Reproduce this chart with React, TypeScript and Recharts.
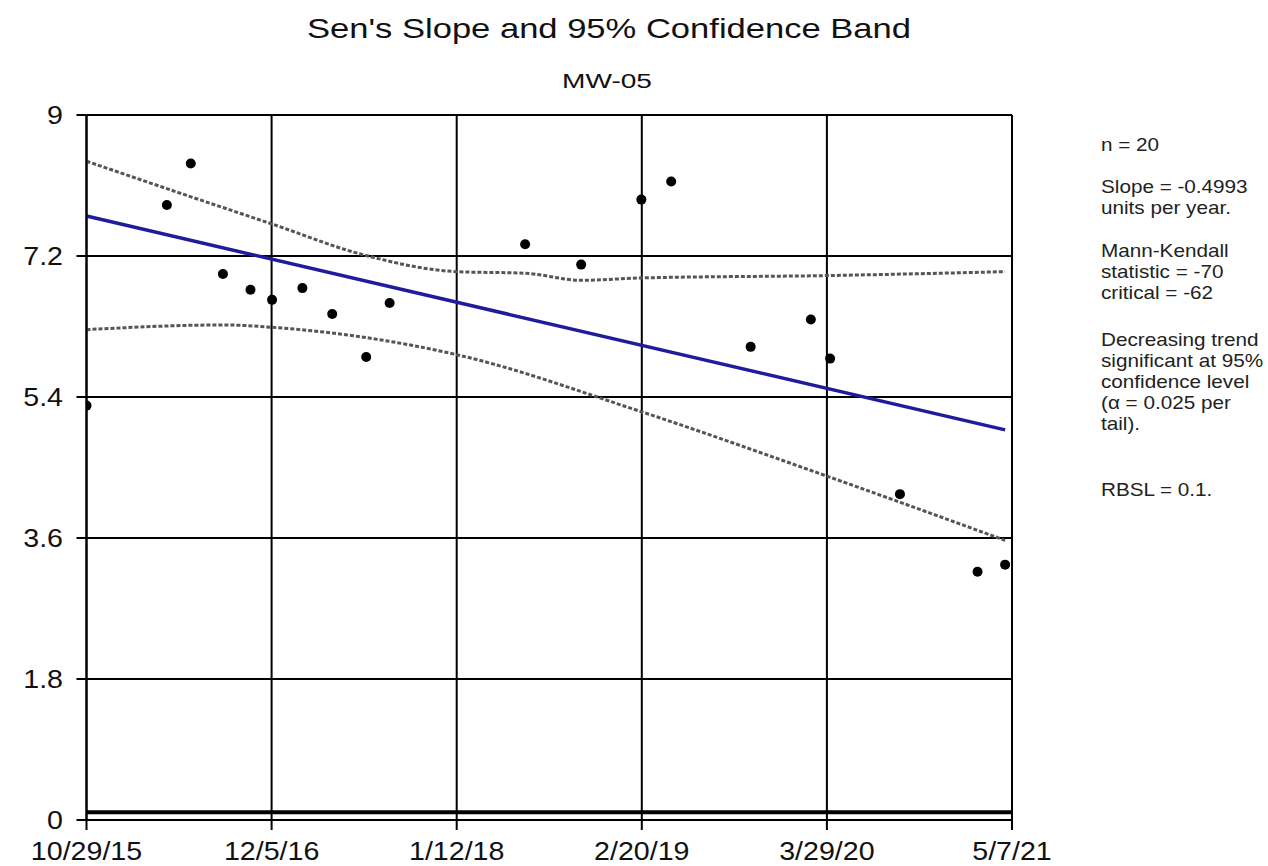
import React from "react";
import {
  ComposedChart,
  XAxis,
  YAxis,
  CartesianGrid,
  Line,
  Scatter,
  ReferenceLine,
} from "recharts";

// Sample dates as days since 10/29/15
const sampleDays = [0, 175, 227, 297, 357, 404, 470, 535, 609, 660, 955, 1077, 1208, 1273, 1446, 1577, 1619, 1771, 1940, 2000];
const sampleValues = [5.29, 7.85, 8.38, 6.97, 6.77, 6.64, 6.79, 6.46, 5.91, 6.6, 7.35, 7.09, 7.92, 8.15, 6.04, 6.39, 5.89, 4.16, 3.17, 3.26];

const senDays = [0, 2000];
const senValues = [7.71, 4.98];

const upperDays = [0, 200, 403, 600, 806, 955, 1077, 1209, 1612, 2000];
const upperValues = [8.41, 8.01, 7.61, 7.22, 7.0, 6.98, 6.89, 6.92, 6.95, 7.0];

const lowerDays = [0, 300, 403, 806, 1209, 1612, 2000];
const lowerValues = [6.26, 6.32, 6.29, 5.94, 5.21, 4.39, 3.57];

const xTicks = [0, 403, 806, 1209, 1612, 2015];
const xTickLabels = ["10/29/15", "12/5/16", "1/12/18", "2/20/19", "3/29/20", "5/7/21"];
const yTicks = [0, 1.8, 3.6, 5.4, 7.2, 9];
const yTickLabels = ["0", "1.8", "3.6", "5.4", "7.2", "9"];

const rbsl = 0.1;

const title = "Sen's Slope and 95% Confidence Band";
const subtitle = "MW-05";
const noteLines: [string, number][] = [
  ["n = 20", 151],
  ["Slope = -0.4993", 193],
  ["units per year.", 214],
  ["Mann-Kendall", 257],
  ["statistic = -70", 278],
  ["critical = -62", 299],
  ["Decreasing trend", 346],
  ["significant at 95%", 367],
  ["confidence level", 388],
  ["(\u03b1 = 0.025 per", 409],
  ["tail).", 430],
  ["RBSL = 0.1.", 496],
];

const zip = (xs: number[], ys: number[]) => xs.map((x, i) => ({ x, y: ys[i] }));
const samples = zip(sampleDays, sampleValues);
const senLine = zip(senDays, senValues);
const upperBand = zip(upperDays, upperValues);
const lowerBand = zip(lowerDays, lowerValues);

const FONT = "'Liberation Sans', Arial, Helvetica, sans-serif";

const YTick = (props: any) => {
  const { y, payload } = props;
  const idx = yTicks.indexOf(payload.value);
  return (
    <text
      x={0}
      y={0}
      transform={`translate(63,${y + 9}) scale(1.1,1)`}
      textAnchor="end"
      fontSize={26}
      fontFamily={FONT}
      fill="#111"
    >
      {idx >= 0 ? yTickLabels[idx] : String(payload.value)}
    </text>
  );
};

const XTick = (props: any) => {
  const { x, payload } = props;
  const idx = xTicks.indexOf(payload.value);
  return (
    <text
      x={0}
      y={0}
      transform={`translate(${x},860) scale(1.1,1)`}
      textAnchor="middle"
      fontSize={26}
      fontFamily={FONT}
      fill="#111"
    >
      {idx >= 0 ? xTickLabels[idx] : String(payload.value)}
    </text>
  );
};

const Dot = (props: any) => {
  const { cx, cy } = props;
  if (cx == null || cy == null) return <g />;
  return <circle cx={cx} cy={cy} r={5} fill="#000" />;
};

export default function App() {
  return (
    <div style={{ position: "absolute", left: 0, top: 0, width: 1268, height: 866, background: "#fff" }}>
      <ComposedChart
        width={1268}
        height={866}
        margin={{ top: 115, right: 256, bottom: 0, left: 0 }}
      >
        <CartesianGrid stroke="#000" strokeWidth={2} />
        <XAxis
          type="number"
          dataKey="x"
          domain={[0, 2015]}
          ticks={xTicks}
          interval={0}
          height={46}
          axisLine={{ stroke: "#000", strokeWidth: 2 }}
          tickLine={{ stroke: "#000", strokeWidth: 2 }}
          tickSize={10}
          tick={<XTick />}
          allowDataOverflow
        />
        <YAxis
          type="number"
          dataKey="y"
          domain={[0, 9]}
          ticks={yTicks}
          interval={0}
          width={86.5}
          axisLine={{ stroke: "#000", strokeWidth: 2 }}
          tickLine={{ stroke: "#000", strokeWidth: 2 }}
          tickSize={10}
          tick={<YTick />}
          allowDataOverflow
        />
        <ReferenceLine y={rbsl} stroke="#000" strokeWidth={4} ifOverflow="visible" />
        <Line
          data={upperBand}
          dataKey="y"
          type="monotone"
          stroke="#555"
          strokeWidth={3}
          strokeDasharray="4 2"
          dot={false}
          activeDot={false}
          isAnimationActive={false}
          legendType="none"
        />
        <Line
          data={lowerBand}
          dataKey="y"
          type="monotone"
          stroke="#555"
          strokeWidth={3}
          strokeDasharray="4 2"
          dot={false}
          activeDot={false}
          isAnimationActive={false}
          legendType="none"
        />
        <Line
          data={senLine}
          dataKey="y"
          type="linear"
          stroke="#1c1c9c"
          strokeWidth={3.5}
          dot={false}
          activeDot={false}
          isAnimationActive={false}
          legendType="none"
        />
        <Scatter data={samples} dataKey="y" fill="#000" shape={<Dot />} isAnimationActive={false} legendType="none" />
      </ComposedChart>
      <svg
        width={1268}
        height={866}
        style={{ position: "absolute", left: 0, top: 0, pointerEvents: "none" }}
      >
        <text
          x={609}
          y={38}
          textAnchor="middle"
          fontSize={28}
          fontFamily={FONT}
          fill="#111"
          textLength={604}
          lengthAdjust="spacingAndGlyphs"
        >
          {title}
        </text>
        <text
          x={607}
          y={88}
          textAnchor="middle"
          fontSize={20}
          fontFamily={FONT}
          fill="#111"
          textLength={90}
          lengthAdjust="spacingAndGlyphs"
        >
          {subtitle}
        </text>
        <g transform="translate(1101,0) scale(1.15,1)">
          {noteLines.map(([t, y]) => (
            <text key={t} x={0} y={y} fontSize={18} fontFamily={FONT} fill="#222">
              {t}
            </text>
          ))}
        </g>
      </svg>
    </div>
  );
}
